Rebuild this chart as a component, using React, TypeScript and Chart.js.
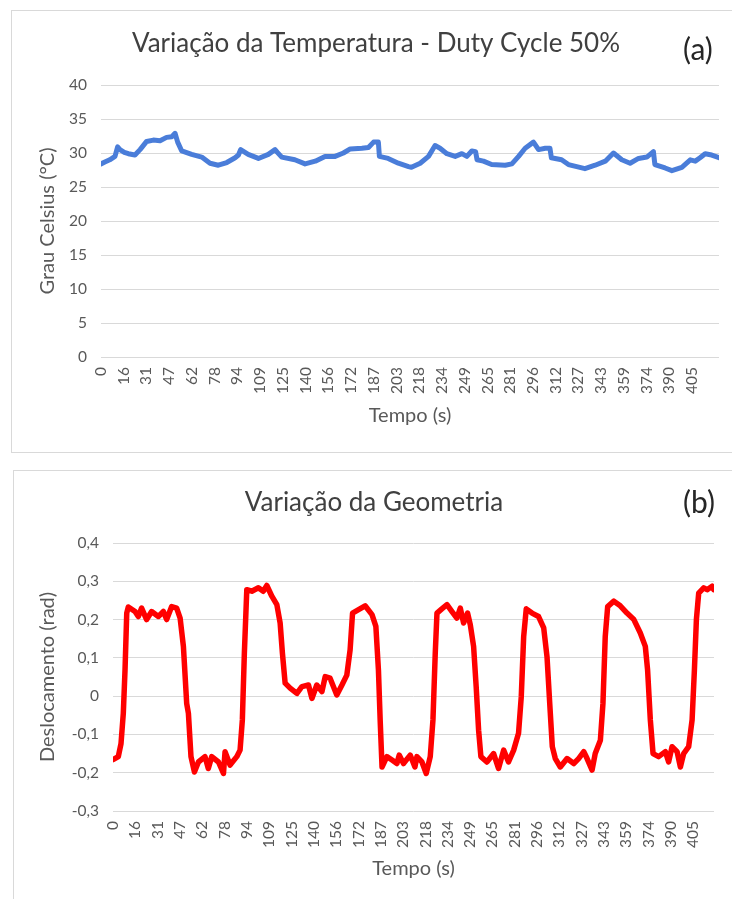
import { useEffect, useRef } from 'react';
import { Chart, registerables } from 'chart.js';

Chart.register(...registerables);

const FONT = 'Lato, "Open Sans", sans-serif';

// x-axis tick labels (seconds), one every TICK_STEP seconds
const TICK_LABELS = ['0', '16', '31', '47', '62', '78', '94', '109', '125', '140', '156', '172', '187', '203', '218', '234', '249', '265', '281', '296', '312', '327', '343', '359', '374', '390', '405'];
const TICK_STEP = 15.6;

// (a) temperature, duty cycle 50%
const TIME_A = [0, 3, 6, 9.6, 11.4, 13, 16, 18.8, 23.3, 26.8, 31.3, 35.9, 40.5, 45, 48.6, 50.8, 52.6, 55.4, 62.2, 69.1, 74.8, 80.5, 86.3, 92, 94.3, 95.8, 101, 108, 114.8, 119.4, 121, 124, 133, 140, 147, 153.7, 160.6, 166.3, 171, 179, 183.5, 187, 190.3, 191, 197, 204, 211, 213, 219, 224.7, 229.2, 232.6, 237.3, 243, 247.6, 251, 254.4, 257, 258, 262.4, 268, 277.3, 281.9, 286.5, 291, 296.7, 300.2, 304.8, 308, 309, 316, 320.7, 332, 339, 346, 351.6, 357.3, 363, 368.8, 374.5, 379, 380, 387, 391.7, 398.5, 404.3, 407.7, 411, 414.5, 419, 424];
const TEMP_A = [28.4, 28.7, 29.0, 29.5, 30.9, 30.5, 30.1, 29.9, 29.7, 30.5, 31.7, 31.9, 31.8, 32.3, 32.4, 32.9, 31.6, 30.3, 29.8, 29.4, 28.5, 28.2, 28.6, 29.3, 29.7, 30.5, 29.8, 29.2, 29.8, 30.5, 30.1, 29.4, 29.0, 28.4, 28.8, 29.5, 29.5, 30.0, 30.6, 30.7, 30.8, 31.6, 31.6, 29.5, 29.2, 28.5, 28.0, 27.9, 28.5, 29.5, 31.1, 30.7, 29.9, 29.5, 29.9, 29.5, 30.3, 30.2, 29.0, 28.8, 28.3, 28.2, 28.4, 29.5, 30.7, 31.6, 30.5, 30.7, 30.7, 29.3, 29.0, 28.3, 27.7, 28.2, 28.8, 30.0, 29.0, 28.5, 29.2, 29.4, 30.2, 28.3, 27.8, 27.4, 27.9, 29.0, 28.8, 29.3, 29.9, 29.7, 29.3];
const X_MAX_A = 424;
const Y_MIN_A = 0;
const Y_MAX_A = 40;
const Y_STEP_A = 5;

// (b) geometry displacement (rad)
const TIME_B = [0, 3.7, 5.6, 7.2, 8.4, 9.6, 10.7, 15.4, 17.7, 20, 23.5, 27, 31.7, 35.2, 37.5, 41, 44.5, 46.9, 49.2, 51.5, 52.7, 54.5, 56.9, 59.7, 64.3, 66.6, 69, 73.7, 77.2, 78.3, 81.8, 86.5, 88.8, 90.4, 91.8, 93.5, 97, 101.6, 105, 107.5, 111, 114.5, 116.8, 118.4, 120.3, 123.8, 128.5, 132, 136.6, 139, 142.4, 146, 148.3, 151.7, 156.4, 160, 163.4, 165.7, 167.4, 171.6, 176.2, 181, 183.7, 185.5, 186.7, 188, 191.4, 195, 198.4, 200, 203, 207.7, 211, 212.4, 215.9, 218.9, 221.7, 223.6, 225.2, 226.4, 229.8, 233.4, 236.9, 240.3, 242.7, 245, 247.8, 249.7, 252, 253.8, 255.5, 257.1, 261.3, 266, 269.4, 273, 276.4, 280, 283.4, 285.3, 287, 288.8, 292.8, 297.4, 301, 303.3, 305.2, 307, 309.1, 312.6, 317.3, 322, 325.4, 329, 331.3, 334.8, 337, 340.6, 342.4, 344, 345.7, 350, 354.5, 359.2, 364, 368.5, 372, 373.6, 375.5, 377.4, 381.3, 386, 388.3, 390.7, 394.2, 396.5, 398.8, 402.3, 404.7, 406.3, 407.7, 409.3, 412.8, 415.2, 418.7, 419.8];
const DISP_B = [-0.166, -0.158, -0.124, -0.045, 0.068, 0.217, 0.233, 0.221, 0.208, 0.230, 0.200, 0.221, 0.208, 0.221, 0.200, 0.234, 0.230, 0.204, 0.130, -0.019, -0.045, -0.158, -0.198, -0.172, -0.158, -0.189, -0.158, -0.172, -0.202, -0.145, -0.180, -0.158, -0.141, -0.062, 0.112, 0.278, 0.274, 0.283, 0.274, 0.289, 0.261, 0.239, 0.191, 0.112, 0.034, 0.021, 0.007, 0.025, 0.029, -0.006, 0.029, 0.012, 0.051, 0.047, 0.003, 0.029, 0.055, 0.121, 0.217, 0.226, 0.236, 0.213, 0.182, 0.068, -0.062, -0.185, -0.158, -0.167, -0.176, -0.154, -0.176, -0.154, -0.185, -0.158, -0.172, -0.202, -0.158, -0.062, 0.112, 0.217, 0.228, 0.239, 0.221, 0.204, 0.230, 0.191, 0.217, 0.186, 0.130, 0.025, -0.089, -0.158, -0.172, -0.150, -0.189, -0.141, -0.172, -0.141, -0.097, -0.002, 0.156, 0.228, 0.217, 0.208, 0.178, 0.103, -0.019, -0.132, -0.163, -0.185, -0.163, -0.176, -0.163, -0.145, -0.163, -0.193, -0.150, -0.115, -0.019, 0.156, 0.234, 0.248, 0.236, 0.217, 0.200, 0.165, 0.130, 0.068, -0.062, -0.150, -0.158, -0.145, -0.172, -0.132, -0.145, -0.185, -0.150, -0.132, -0.062, 0.068, 0.200, 0.269, 0.283, 0.278, 0.287, 0.278];
const X_MAX_B = 420;
const Y_MIN_B = -0.3;
const Y_MAX_B = 0.4;
const Y_STEP_B = 0.1;

const headerPlugin = {
  id: 'header',
  afterDraw(chart: any, _args: any, opts: any) {
    const ctx = chart.ctx;
    ctx.save();
    ctx.textBaseline = 'alphabetic';
    ctx.fillStyle = opts.titleColor;
    ctx.font = `${opts.titleSize}px ${FONT}`;
    ctx.textAlign = 'center';
    ctx.fillText(opts.title, opts.titleX, opts.titleY);
    ctx.fillStyle = opts.tagColor;
    ctx.font = `${opts.tagSize}px ${FONT}`;
    ctx.textAlign = 'left';
    ctx.fillText(opts.tag, opts.tagX, opts.tagY);
    ctx.restore();
  },
};

type Spec = {
  times: number[];
  values: number[];
  xMax: number;
  yMin: number;
  yMax: number;
  yStep: number;
  color: string;
  lineWidth: number;
  yTitle: string;
  title: string;
  tag: string;
  width: number;
  height: number;
  area: { left: number; top: number; right: number; bottom: number };
  titlePos: { x: number; y: number };
  tagPos: { x: number; y: number };
  yTitleCenterX: number;
  xTitleCenterY: number;
  fmt: (v: number) => string;
};

function LineBox({ spec, style }: { spec: Spec; style: any }) {
  const ref = useRef<HTMLCanvasElement | null>(null);
  useEffect(() => {
    if (!ref.current) return;
    const s = spec;
    const axisTitleSize = 20;
    const axisTitleLH = axisTitleSize * 1.2;
    const chart = new Chart(ref.current, {
      type: 'line',
      data: {
        datasets: [
          {
            data: s.times.map((t, i) => ({ x: t, y: s.values[i] })),
            borderColor: s.color,
            backgroundColor: s.color,
            borderWidth: s.lineWidth,
            pointRadius: 0,
            tension: 0,
            borderJoinStyle: 'round',
            borderCapStyle: 'round',
          } as any,
        ],
      },
      options: {
        animation: false,
        responsive: false,
        maintainAspectRatio: false,
        layout: {
          padding: { top: s.area.top, right: s.width - s.area.right, left: 0, bottom: 0 },
        },
        plugins: {
          legend: { display: false },
          tooltip: { enabled: false },
          title: { display: false },
          header: {
            title: s.title,
            tag: s.tag,
            titleX: s.titlePos.x,
            titleY: s.titlePos.y,
            tagX: s.tagPos.x,
            tagY: s.tagPos.y,
            titleSize: 26,
            tagSize: 30,
            titleColor: '#404040',
            tagColor: '#262626',
          },
        } as any,
        scales: {
          x: {
            type: 'linear',
            min: 0,
            max: s.xMax,
            bounds: 'data',
            grid: { display: false, drawTicks: false },
            border: { display: false },
            afterBuildTicks: (axis: any) => {
              axis.ticks = TICK_LABELS.map((_, i) => ({ value: i * TICK_STEP }));
            },
            afterFit: (axis: any) => {
              axis.height = s.height - s.area.bottom;
            },
            ticks: {
              autoSkip: false,
              maxRotation: 90,
              minRotation: 90,
              padding: 10,
              color: '#595959',
              font: { family: FONT, size: 15.5 },
              callback: (_v: any, i: number) => TICK_LABELS[i],
            },
            title: {
              display: true,
              text: 'Tempo (s)',
              color: '#595959',
              font: { family: FONT, size: axisTitleSize },
              padding: { top: 0, bottom: s.height - s.xTitleCenterY - axisTitleLH / 2 },
            },
          },
          y: {
            type: 'linear',
            min: s.yMin,
            max: s.yMax,
            grid: { color: '#d9d9d9', lineWidth: 1, drawTicks: false },
            border: { display: false },
            afterFit: (axis: any) => {
              axis.width = s.area.left;
            },
            ticks: {
              stepSize: s.yStep,
              padding: 14,
              color: '#595959',
              font: { family: FONT, size: 15.5 },
              callback: (v: any) => s.fmt(Number(v)),
            },
            title: {
              display: true,
              text: s.yTitle,
              color: '#595959',
              font: { family: FONT, size: axisTitleSize },
              padding: { top: s.yTitleCenterX - axisTitleLH / 2, bottom: 0 },
            },
          },
        },
      } as any,
      plugins: [headerPlugin as any],
    });
    return () => chart.destroy();
  }, [spec]);
  return (
    <div style={style}>
      <canvas ref={ref} width={spec.width} height={spec.height} style={{ display: 'block' }} />
    </div>
  );
}

const specA: Spec = {
  times: TIME_A,
  values: TEMP_A,
  xMax: X_MAX_A,
  yMin: Y_MIN_A,
  yMax: Y_MAX_A,
  yStep: Y_STEP_A,
  color: '#4a7dd9',
  lineWidth: 5,
  yTitle: 'Grau Celsius (°C)',
  title: 'Variação da Temperatura - Duty Cycle 50%',
  tag: '(a)',
  width: 740,
  height: 441,
  area: { left: 89, top: 74, right: 707, bottom: 346 },
  titlePos: { x: 364, y: 41 },
  tagPos: { x: 671, y: 49 },
  yTitleCenterX: 36,
  xTitleCenterY: 405,
  fmt: (v) => String(Math.round(v)),
};

const specB: Spec = {
  times: TIME_B,
  values: DISP_B,
  xMax: X_MAX_B,
  yMin: Y_MIN_B,
  yMax: Y_MAX_B,
  yStep: Y_STEP_B,
  color: '#ff0000',
  lineWidth: 5.5,
  yTitle: 'Deslocamento (rad)',
  title: 'Variação da Geometria',
  tag: '(b)',
  width: 740,
  height: 440,
  area: { left: 99, top: 72, right: 700, bottom: 340 },
  titlePos: { x: 360, y: 40 },
  tagPos: { x: 669, y: 42 },
  yTitleCenterX: 34,
  xTitleCenterY: 398,
  fmt: (v) => (Math.abs(v) < 1e-9 ? '0' : v.toFixed(1).replace('.', ',')),
};

export default function App() {
  return (
    <div style={{ position: 'absolute', left: 0, top: 0, width: 732, height: 899, overflow: 'hidden', background: '#ffffff' }}>
      <LineBox
        spec={specA}
        style={{ position: 'absolute', left: 11, top: 10, border: '1px solid #d9d9d9', background: '#fff' }}
      />
      <LineBox
        spec={specB}
        style={{ position: 'absolute', left: 13, top: 470, border: '1px solid #d9d9d9', background: '#fff' }}
      />
    </div>
  );
}
